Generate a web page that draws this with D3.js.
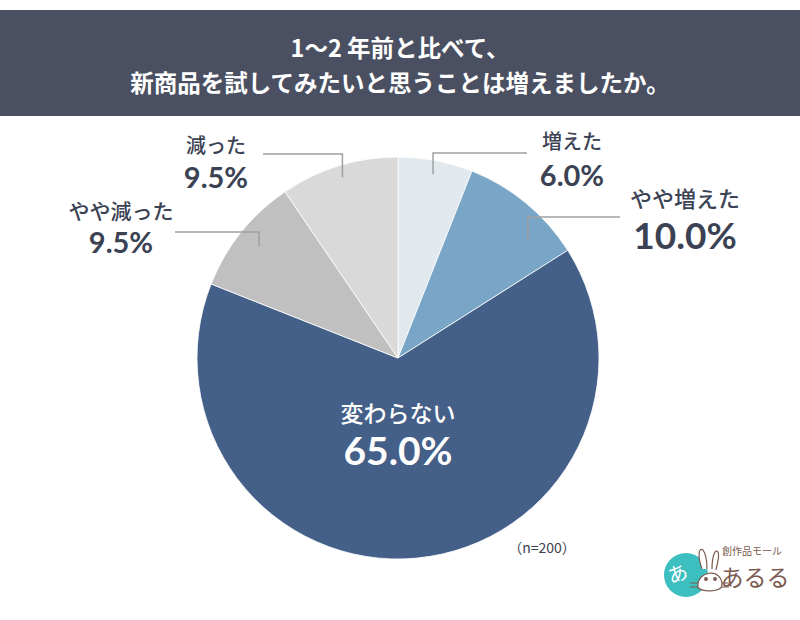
<!DOCTYPE html>
<html>
<head>
<meta charset="utf-8">
<script src="https://cdn.jsdelivr.net/npm/d3@7"></script>
<style>
  html, body { margin: 0; padding: 0; background: #fff; }
  svg { display: block; font-family: "Noto Sans CJK JP", "Noto Sans", sans-serif; }
  .num { font-family: Lato, "Noto Sans", sans-serif; font-weight: 700; }
</style>
</head>
<body>
<div class="container"></div>
<script>
// data
const categories = ["増えた", "やや増えた", "変わらない", "やや減った", "減った"];
const values = [6.0, 10.0, 65.0, 9.5, 9.5];
const valueLabels = ["6.0%", "10.0%", "65.0%", "9.5%", "9.5%"];
const titleLines = ["1～2 年前と比べて、", "新商品を試してみたいと思うことは増えましたか。"];
const sampleNote = "（n=200）";

const WIDTH = 800;
const HEIGHT = 620;
const CENTER = { x: 398, y: 358 };
const RADIUS = 201;
const COLORS = ["#e2e9ee", "#79a6c7", "#445f88", "#c0c0c0", "#d9d9d9"];
const TEXT_COLOR = "#3b4254";
const LINE_COLOR = "#a0a0a0";

// label placement per slice (null = inside the pie)
const LABEL_LAYOUT = [
  { shift: 0, r: 187, elbowY: 153, endX: 527, tx: 572, catY: 149, catSize: 20, valY: 186, valSize: 29 },
  { shift: 8, r: 176, elbowY: 217, endX: 620, tx: 685, catY: 207, catSize: 22, valY: 249, valSize: 37 },
  null,
  { shift: 0, r: 178, elbowY: 232, endX: 175, tx: 121, catY: 219, catSize: 21, valY: 253, valSize: 29 },
  { shift: 0, r: 189, elbowY: 154, endX: 263, tx: 216, catY: 153, catSize: 20, valY: 188, valSize: 29 }
];

const svg = d3.select(".container")
  .append("svg")
  .attr("viewBox", [0, 0, WIDTH, HEIGHT])
  .attr("width", WIDTH)
  .attr("height", HEIGHT);

// title banner
svg.append("rect")
  .attr("x", 0).attr("y", 10)
  .attr("width", WIDTH).attr("height", 106)
  .attr("fill", "#4a5061");
svg.append("g")
  .selectAll("text")
  .data(titleLines)
  .join("text")
  .attr("x", WIDTH / 2)
  .attr("y", (d, i) => 57 + i * 35)
  .attr("text-anchor", "middle")
  .attr("fill", "#fff")
  .attr("font-size", 23.5)
  .attr("font-weight", 700)
  .text(d => d);

// pie
const data = categories.map((c, i) => ({ name: c, value: values[i], label: valueLabels[i], idx: i }));
const pie = d3.pie().sort(null).value(d => d.value);
const arcs = pie(data);
const arc = d3.arc().innerRadius(0).outerRadius(RADIUS);

const g = svg.append("g").attr("transform", `translate(${CENTER.x},${CENTER.y})`);
g.selectAll("path")
  .data(arcs)
  .join("path")
  .attr("d", arc)
  .attr("fill", d => COLORS[d.data.idx])
  .attr("stroke", "#fff")
  .attr("stroke-width", 0.8);

// outside labels with leader lines
arcs.forEach(a => {
  const lay = LABEL_LAYOUT[a.data.idx];
  if (!lay) return;
  const mid = (a.startAngle + a.endAngle) / 2 + lay.shift * Math.PI / 180;
  const [px, py] = d3.pointRadial(mid, lay.r);
  const ax = CENTER.x + px, ay = CENTER.y + py;
  svg.append("path")
    .attr("d", `M${ax},${ay}V${lay.elbowY}H${lay.endX}`)
    .attr("fill", "none")
    .attr("stroke", LINE_COLOR)
    .attr("stroke-width", 1.5);
  svg.append("text")
    .attr("x", lay.tx).attr("y", lay.catY)
    .attr("text-anchor", "middle")
    .attr("fill", TEXT_COLOR)
    .attr("font-size", lay.catSize)
    .attr("font-weight", 500)
    .text(a.data.name);
  svg.append("text")
    .attr("class", "num")
    .attr("x", lay.tx).attr("y", lay.valY)
    .attr("text-anchor", "middle")
    .attr("fill", TEXT_COLOR)
    .attr("font-size", lay.valSize)
    .text(a.data.label);
});

// inside label for the big slice
const big = arcs[2];
svg.append("text")
  .attr("x", CENTER.x).attr("y", 422)
  .attr("text-anchor", "middle")
  .attr("fill", "#fff")
  .attr("font-size", 23)
  .attr("font-weight", 500)
  .text(big.data.name);
svg.append("text")
  .attr("class", "num")
  .attr("x", CENTER.x).attr("y", 465)
  .attr("text-anchor", "middle")
  .attr("fill", "#fff")
  .attr("font-size", 39)
  .text(big.data.label);

// sample size
svg.append("text")
  .attr("x", 542).attr("y", 553)
  .attr("text-anchor", "middle")
  .attr("fill", TEXT_COLOR)
  .attr("font-size", 14)
  .text(sampleNote);

// logo
const brown = "#7b5a4f";
const logo = svg.append("g").attr("transform", "translate(686,575)");
logo.append("circle").attr("r", 22).attr("fill", "#3dbfc0");
logo.append("text")
  .attr("x", -8).attr("y", 6)
  .attr("text-anchor", "middle")
  .attr("fill", "#fff")
  .attr("font-size", 20)
  .attr("transform", "rotate(-20,-8,0)")
  .text("あ");
const rabbit = logo.append("g")
  .attr("fill", "#fff")
  .attr("stroke", brown)
  .attr("stroke-width", 1.2);
rabbit.append("path").attr("d", "M16,-6 C11,-20 13,-28 17,-25 C20,-21 21,-13 21,-6");
rabbit.append("path").attr("d", "M26,-6 C26,-18 29,-27 32,-23 C34,-19 31,-11 30,-5");
rabbit.append("path").attr("d", "M12,12 C10,-4 36,-8 36,10 C36,17 14,18 12,12 Z");
rabbit.append("circle").attr("cx", 20).attr("cy", 4).attr("r", 1.3).attr("fill", brown);
rabbit.append("circle").attr("cx", 29).attr("cy", 4).attr("r", 1.3).attr("fill", brown);
rabbit.append("path").attr("d", "M4,8 H12 M4,12 H12 M36,8 H43 M36,12 H43").attr("fill", "none");
logo.append("text")
  .attr("x", 66).attr("y", -20)
  .attr("text-anchor", "middle")
  .attr("fill", brown)
  .attr("font-size", 10)
  .text("創作品モール");
logo.append("text")
  .attr("x", 69).attr("y", 11)
  .attr("text-anchor", "middle")
  .attr("fill", brown)
  .attr("font-size", 23)
  .text("あるる");
</script>
</body>
</html>
